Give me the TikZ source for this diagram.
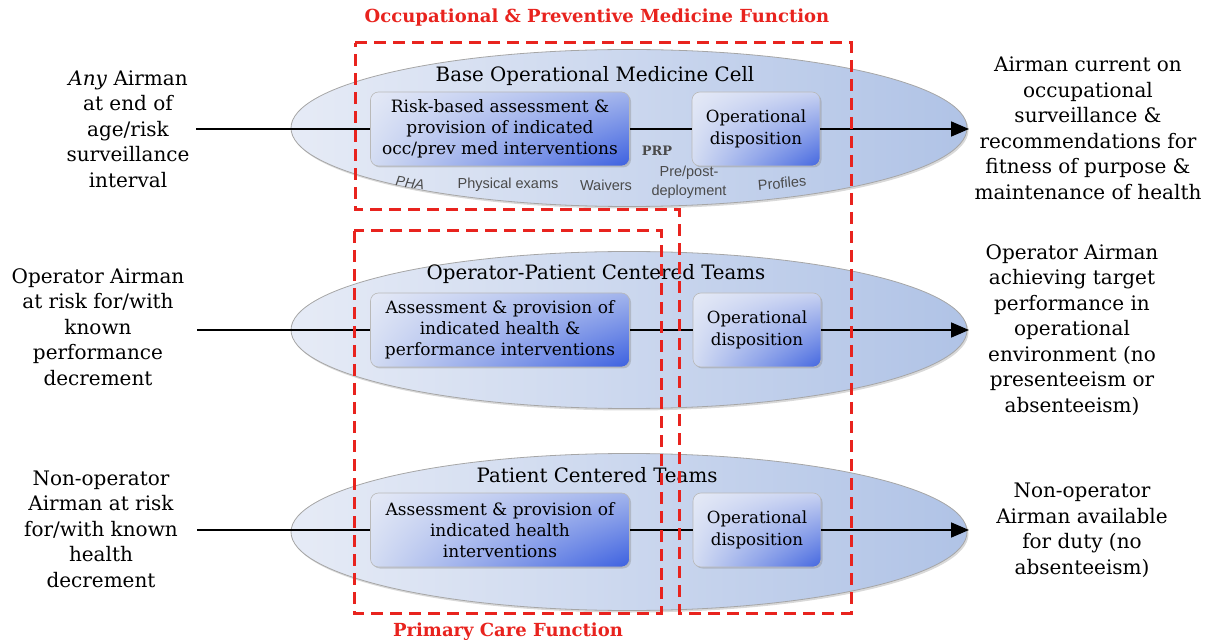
\documentclass[tikz,border=0pt]{standalone}
\usepackage{fontspec}
\setmainfont{DejaVu Serif}
\newfontfamily\lblsans{Liberation Sans}
\usetikzlibrary{shapes.geometric,shadows,shadings,arrows.meta}
\definecolor{dred}{HTML}{E8231E}
\definecolor{ellL}{HTML}{E6EBF6}
\definecolor{ellR}{HTML}{B0C3E6}
\definecolor{bxUL}{HTML}{E4E9F6}
\definecolor{bxLL}{HTML}{D3DCF2}
\definecolor{bxUR}{HTML}{A2B4EC}
\definecolor{bxLR}{HTML}{3C60E0}
\definecolor{dsUR}{HTML}{C8D2F1}
\definecolor{dsLR}{HTML}{4467E0}
\definecolor{smallgray}{HTML}{4A4A4A}
\begin{document}
\begin{tikzpicture}[x=1pt,y=-1pt,
  outer/.style={align=center,font={\fontsize{20}{25.5}\selectfont},inner sep=0pt},
  ell/.style={ellipse,draw=gray!70,line width=0.8pt,left color=ellL,right color=ellR,
    minimum width=676pt,minimum height=157pt,inner sep=0pt,
    drop shadow={opacity=0.3,shadow xshift=1.5pt,shadow yshift=-2pt}},
  elltitle/.style={font={\fontsize{19.8}{21}\selectfont},inner sep=0pt},
  abox/.style={rounded corners=8pt,draw=gray!55,line width=0.6pt,
    upper left=bxUL,lower left=bxLL,upper right=bxUR,lower right=bxLR,
    minimum width=259pt,minimum height=74pt,align=center,inner sep=2pt,
    font={\fontsize{17}{21}\selectfont},
    drop shadow={opacity=0.35,shadow xshift=1.5pt,shadow yshift=-1.5pt}},
  dbox/.style={abox,upper right=dsUR,lower right=dsLR,minimum width=128pt,
    font={\fontsize{16.7}{21.5}\selectfont}},
  conn/.style={line width=1.8pt,black},
  arr/.style={conn,-{Triangle[length=18pt,width=15pt]}},
  reddash/.style={draw=dred,line width=3pt,dash pattern=on 12pt off 7pt},
  redtitle/.style={text=dred,font={\fontsize{18}{20}\selectfont\bfseries},inner sep=0pt},
  tiny/.style={text=smallgray,font={\lblsans\fontsize{14.5}{16}\selectfont},inner sep=0pt,align=center}
]
\useasboundingbox (0,0) rectangle (1211,644);

% ellipses
\node[ell] (E1) at (629,128) {};
\node[ell] (E2) at (629,330) {};
\node[ell] (E3) at (629,532) {};

\node[elltitle] (T1) at (595,76) {Base Operational Medicine Cell};
\node[elltitle] (T2) at (596,274) {Operator-Patient Centered Teams};
\node[elltitle] (T3) at (597,475) {Patient Centered Teams};

% boxes
\node[abox] (B1) at (500,129) {Risk-based assessment \&\\provision of indicated\\occ/prev med interventions};
\node[dbox] (D1) at (756,129) {Operational\\disposition};
\node[abox] (B2) at (500,330) {Assessment \& provision of\\indicated health \&\\performance interventions};
\node[dbox] (D2) at (757,330) {Operational\\disposition};
\node[abox] (B3) at (500,530) {Assessment \& provision of\\indicated health\\interventions};
\node[dbox] (D3) at (757,530) {Operational\\disposition};

% small labels in first ellipse
\node[tiny,font={\fontsize{13}{14}\selectfont\bfseries}] (PRP) at (657,151) {PRP};
\node[tiny,font={\lblsans\itshape\fontsize{14}{16}\selectfont},rotate=-8] (PHA) at (410,183) {PHA};
\node[tiny] (PE) at (508,185) {Physical exams};
\node[tiny] (WV) at (606,185) {Waivers};
\node[tiny,font={\lblsans\fontsize{14.5}{19}\selectfont}] (PD) at (689,182) {Pre/post-\\deployment};
\node[tiny,rotate=5] (PF) at (782,183) {Profiles};

% left labels
\node[outer] (L1) at (128,129) {\textit{Any} Airman\\at end of\\age/risk\\surveillance\\interval};
\node[outer] (L2) at (98,327) {Operator Airman\\at risk for/with\\known\\performance\\decrement};
\node[outer] (L3) at (101,529) {Non-operator\\Airman at risk\\for/with known\\health\\decrement};

% right labels
\node[outer] (R1) at (1088,128.5) {Airman current on\\occupational\\surveillance \&\\recommendations for\\fitness of purpose \&\\maintenance of health};
\node[outer] (R2) at (1072,330) {Operator Airman\\achieving target\\performance in\\operational\\environment (no\\presenteeism or\\absenteeism)};
\node[outer] (R3) at (1082,530.5) {Non-operator\\Airman available\\for duty (no\\absenteeism)};

% connector ends
\coordinate (S1) at (196,129);
\coordinate (S2) at (197,330);
\coordinate (S3) at (197,530);
\coordinate (A1) at (969,129);
\coordinate (A2) at (969,330);
\coordinate (A3) at (969,530);

\draw[conn] (S1) -- (B1.west);
\draw[conn] (B1.east) -- (D1.west);
\draw[arr] (D1.east) -- (A1);
\draw[conn] (S2) -- (B2.west);
\draw[conn] (B2.east) -- (D2.west);
\draw[arr] (D2.east) -- (A2);
\draw[conn] (S3) -- (B3.west);
\draw[conn] (B3.east) -- (D3.west);
\draw[arr] (D3.east) -- (A3);

% red dashed functional boundaries
\draw[reddash] (355,43) -- (851,43) -- (851,613) -- (679,613) -- (679,210) -- (355,210) -- cycle;
\draw[reddash] (354,231) rectangle (661,613);

\node[redtitle] (OT) at (597,18) {Occupational \& Preventive Medicine Function};
\node[redtitle] (PT) at (508,632) {Primary Care Function};
\end{tikzpicture}
\end{document}
